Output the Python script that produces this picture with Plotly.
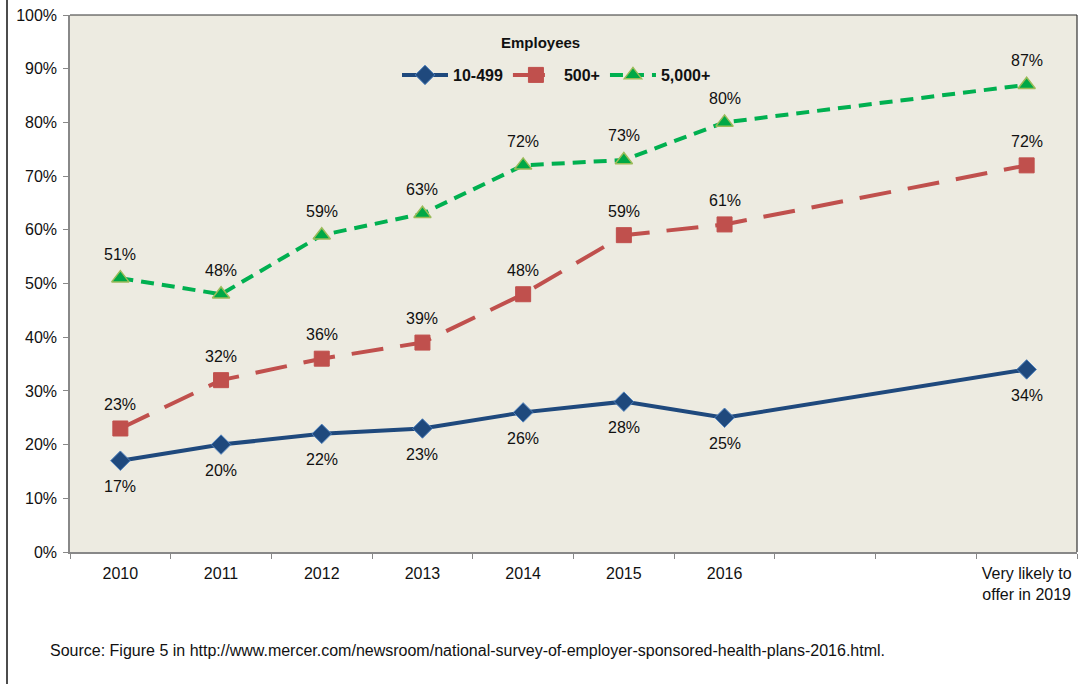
import plotly.graph_objects as go

# categories (two blank slots before the 2019 outlook)
categories = ["2010", "2011", "2012", "2013", "2014", "2015", "2016", " ", "  ",
              "Very likely to<br>offer in 2019"]
x_points = ["2010", "2011", "2012", "2013", "2014", "2015", "2016",
            "Very likely to<br>offer in 2019"]

small = [17, 20, 22, 23, 26, 28, 25, 34]      # 10-499
mid = [23, 32, 36, 39, 48, 59, 61, 72]        # 500+
large = [51, 48, 59, 63, 72, 73, 80, 87]      # 5,000+

y_ticks = [0, 10, 20, 30, 40, 50, 60, 70, 80, 90, 100]
y_labels = [f"{v}%" for v in y_ticks]

FONT = "Liberation Sans, Arial, sans-serif"

fig = go.Figure()

fig.add_trace(go.Scatter(
    x=x_points, y=small, name="10-499", mode="lines+markers",
    line=dict(color="#1F497D", width=4),
    marker=dict(symbol="diamond", size=15, color="#1F497D",
                line=dict(color="#4F81BD", width=1)),
))
fig.add_trace(go.Scatter(
    x=x_points, y=mid, name="500+", mode="lines+markers",
    line=dict(color="#C0504D", width=4, dash="32px,17px"),
    marker=dict(symbol="square", size=15, color="#C0504D",
                line=dict(color="#C0504D", width=1)),
))
fig.add_trace(go.Scatter(
    x=x_points, y=large, name="5,000+", mode="lines+markers",
    line=dict(color="#00B050", width=4, dash="13px,8px"),
    marker=dict(symbol="triangle-up", size=15, color="#00A846",
                line=dict(color="#9BBB59", width=1.5)),
))

annotations = []
# data labels (x given as category index)
for series, shift in ((small, -26), (mid, 24), (large, 24)):
    for xv, yv in zip(x_points, series):
        annotations.append(dict(x=categories.index(xv), y=yv, text=f"{yv}%",
                                showarrow=False, yshift=shift,
                                font=dict(size=16, color="#111")))

# legend title
annotations.append(dict(x=(540 - 70) / 1007, y=(552 - 43) / 537, xref="paper", yref="paper",
                        xanchor="center", yanchor="middle",
                        text="<b>Employees</b>", showarrow=False,
                        font=dict(size=15, color="#111")))
# source note
annotations.append(dict(x=(48 - 70) / 1007, y=(552 - 650) / 537, xref="paper", yref="paper",
                        xanchor="left", yanchor="middle", showarrow=False,
                        text="Source: Figure 5 in http://www.mercer.com/newsroom/national-survey-of-employer-sponsored-health-plans-2016.html.",
                        font=dict(size=16, color="#111")))

fig.update_layout(
    width=1079, height=684,
    paper_bgcolor="white",
    plot_bgcolor="#EDEBE1",
    font=dict(family=FONT, size=16, color="#111"),
    margin=dict(l=70, r=2, t=15, b=132),
    showlegend=True,
    legend=dict(
        orientation="h",
        x=(397 - 70) / 1007, xanchor="left",
        y=(552 - 75) / 537, yanchor="middle",
        bgcolor="rgba(0,0,0,0)",
        font=dict(size=16, color="#111", family=FONT, weight="bold"),
        itemwidth=46,
    ),
    xaxis=dict(
        type="category", categoryorder="array", categoryarray=categories,
        range=[-0.5, 9.5], tickson="boundaries",
        ticks="outside", ticklen=5, tickcolor="#888",
        showgrid=False, zeroline=False,
        showline=True, linecolor="#888", linewidth=1.5,
        tickfont=dict(size=16), ticklabelstandoff=6,
    ),
    yaxis=dict(
        range=[0, 100], tickmode="array", tickvals=y_ticks, ticktext=y_labels,
        ticks="outside", ticklen=5, tickcolor="#888",
        showgrid=False, zeroline=False,
        showline=True, linecolor="#888", linewidth=1.5,
        tickfont=dict(size=16), ticklabelstandoff=3,
    ),
    annotations=annotations,
    shapes=[
        # dark frame on top and right of plot area
        dict(type="line", xref="paper", yref="paper", x0=0, x1=1, y0=1, y1=1,
             line=dict(color="#333", width=1.2)),
        dict(type="line", xref="paper", yref="paper", x0=1, x1=1, y0=0, y1=1,
             line=dict(color="#333", width=1.2)),
        # page border at far left
        dict(type="line", xref="paper", yref="paper",
             x0=(7 - 70) / 1007, x1=(7 - 70) / 1007,
             y0=-132 / 537, y1=(552 + 15) / 537,
             line=dict(color="#111", width=1.5)),
    ],
)

fig.write_html("out.html", config={"displayModeBar": False},
               post_script="document.body.style.margin='0';")
